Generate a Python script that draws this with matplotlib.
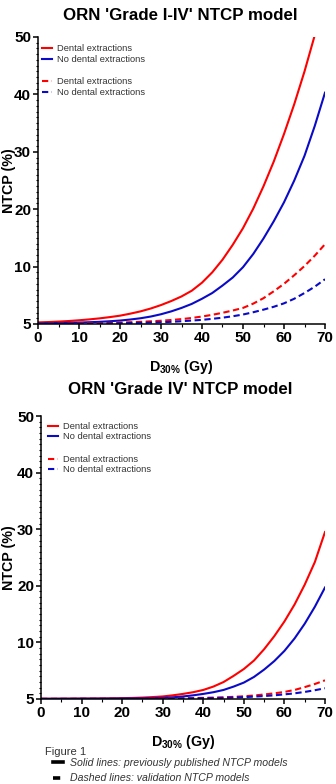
import matplotlib
matplotlib.use("Agg")
import matplotlib.pyplot as plt
from matplotlib.lines import Line2D
from matplotlib.ticker import MultipleLocator

plt.rcParams['font.family'] = ['Liberation Sans', 'DejaVu Sans']
plt.rcParams['mathtext.fontset'] = 'custom'
plt.rcParams['mathtext.rm'] = 'Liberation Sans:bold'
plt.rcParams['mathtext.bf'] = 'Liberation Sans:bold'
plt.rcParams['mathtext.it'] = 'Liberation Sans:bold'

# ---------------- data ----------------
dose = [0, 2.5, 5, 7.5, 10, 12.5, 15, 17.5, 20, 22.5, 25, 27.5, 30, 32.5, 35, 37.5,
        40, 42.5, 45, 47.5, 50, 52.5, 55, 57.5, 60, 62.5, 65, 67.5, 70]

# Top panel: ORN 'Grade I-IV'
top_red_solid = [0.28, 0.34, 0.42, 0.52, 0.65, 0.8, 0.98, 1.2, 1.45, 1.8, 2.2, 2.7, 3.3, 4.0, 4.8, 5.8,
                 7.2, 9.0, 11.2, 13.8, 16.7, 20.1, 24.0, 28.3, 33.1, 38.3, 44.0, 50.3, 56.5]
top_blue_solid = [0.12, 0.14, 0.17, 0.21, 0.25, 0.31, 0.38, 0.48, 0.6, 0.78, 1.0, 1.3, 1.7, 2.2, 2.8, 3.5,
                  4.4, 5.4, 6.7, 8.1, 9.9, 12.2, 14.9, 17.9, 21.2, 25.0, 29.3, 34.5, 40.3]
top_red_dashed = [0.05, 0.06, 0.07, 0.08, 0.1, 0.13, 0.16, 0.2, 0.25, 0.31, 0.38, 0.47, 0.57, 0.7, 0.85, 1.05,
                  1.3, 1.6, 1.95, 2.35, 2.8, 3.55, 4.5, 5.7, 7.0, 8.5, 10.1, 11.9, 13.9]
top_blue_dashed = [0.02, 0.02, 0.03, 0.04, 0.05, 0.06, 0.08, 0.1, 0.12, 0.16, 0.2, 0.25, 0.3, 0.38, 0.48, 0.6,
                   0.72, 0.9, 1.1, 1.35, 1.65, 2.05, 2.5, 3.0, 3.6, 4.4, 5.4, 6.5, 7.8]

# Bottom panel: ORN 'Grade IV'
bot_red_solid = [0.05, 0.05, 0.06, 0.07, 0.08, 0.09, 0.1, 0.12, 0.15, 0.19, 0.25, 0.34, 0.45, 0.65, 0.9, 1.2,
                 1.6, 2.2, 3.0, 4.1, 5.3, 6.8, 8.8, 11.1, 13.7, 16.7, 20.2, 24.2, 29.5]
bot_blue_solid = [0.03, 0.03, 0.04, 0.04, 0.05, 0.05, 0.06, 0.07, 0.08, 0.1, 0.12, 0.15, 0.2, 0.3, 0.45, 0.65,
                  0.9, 1.2, 1.6, 2.2, 2.9, 3.9, 5.2, 6.7, 8.5, 10.7, 13.3, 16.3, 19.7]
bot_red_dashed = [0.02, 0.02, 0.02, 0.02, 0.03, 0.03, 0.03, 0.04, 0.04, 0.05, 0.06, 0.07, 0.08, 0.1, 0.12, 0.16,
                  0.2, 0.25, 0.3, 0.38, 0.48, 0.62, 0.8, 1.0, 1.25, 1.6, 2.1, 2.65, 3.3]
bot_blue_dashed = [0.01, 0.01, 0.01, 0.01, 0.02, 0.02, 0.02, 0.02, 0.03, 0.03, 0.04, 0.05, 0.06, 0.07, 0.09, 0.11,
                   0.14, 0.17, 0.2, 0.26, 0.33, 0.42, 0.52, 0.65, 0.82, 1.0, 1.25, 1.55, 1.9]

titles = ["ORN 'Grade I-IV' NTCP model", "ORN 'Grade IV' NTCP model"]
series_labels = ["Dental extractions", "No dental extractions"]
y_ticks = [0, 10, 20, 30, 40, 50]
y_ticklabels = ["5", "10", "20", "30", "40", "50"]
x_ticks = [0, 10, 20, 30, 40, 50, 60, 70]
footer_labels = ["Solid lines: previously published NTCP models",
                 "Dashed lines: validation NTCP models"]

RED = "#ff0000"
BLUE = "#0a0ac8"
TXT = "#333333"

fig = plt.figure(figsize=(3.36, 7.84), dpi=100)
W, H = 336.0, 784.0

def px_axes(left, right, top, bottom):
    return fig.add_axes([left / W, 1 - bottom / H, (right - left) / W, (bottom - top) / H])

ax1 = px_axes(38, 325, 37, 324)
ax2 = px_axes(41, 325, 416, 699)

DASH = (0, (3.0, 1.7))

panels = [
    (ax1, top_red_solid, top_blue_solid, top_red_dashed, top_blue_dashed, 37, 324, 38, 42, (44, 77), 0.22),
    (ax2, bot_red_solid, bot_blue_solid, bot_red_dashed, bot_blue_dashed, 416, 699, 41, 48, (422, 455), 0.14),
]

for ax, rs, bs, rd, bd, top, bot, left, hx, legy, lsp in panels:
    l1, = ax.plot(dose, rs, color=RED, lw=1.5, solid_joinstyle='round')
    l2, = ax.plot(dose, bs, color=BLUE, lw=1.5, solid_joinstyle='round')
    l3, = ax.plot(dose, rd, color=RED, lw=1.5, ls=DASH)
    l4, = ax.plot(dose, bd, color=BLUE, lw=1.5, ls=DASH)
    ax.set_xlim(0, 70)
    ax.set_ylim(0, 50)
    for s in ['top', 'right']:
        ax.spines[s].set_visible(False)
    for s in ['left', 'bottom']:
        ax.spines[s].set_linewidth(1.1)
    ax.set_yticks(y_ticks)
    ax.set_yticklabels(y_ticklabels)
    ax.set_xticks(x_ticks)
    ax.yaxis.set_minor_locator(MultipleLocator(1))
    ax.xaxis.set_minor_locator(MultipleLocator(5))
    ax.tick_params(axis='both', which='major', length=3.5, width=1.1, pad=1.5,
                   labelsize=11, direction='out')
    ax.tick_params(axis='both', which='minor', length=1.8, width=0.8, direction='out')
    for lab in ax.get_xticklabels() + ax.get_yticklabels():
        lab.set_fontweight('bold')
    ax.set_ylabel("NTCP (%)", fontsize=10.3, fontweight='bold')
    ax.yaxis.set_label_coords((16 - left) / (325 - left), 0.5)
    ax.set_xlabel(r"D$_{\mathbf{30\%}}$ (Gy)", fontsize=10.3, fontweight='bold')
    ax.xaxis.set_label_coords(0.5, -34.0 / (bot - top))

    hxa = (hx - left) / (325 - left)
    leg1 = ax.legend([l1, l2], series_labels, loc='upper left',
                     bbox_to_anchor=(hxa, (bot - legy[0]) / (bot - top)),
                     frameon=False, fontsize=6.75, handlelength=1.1, handletextpad=0.55,
                     labelspacing=lsp, borderpad=0, borderaxespad=0, labelcolor=TXT)
    ax.add_artist(leg1)
    leg2 = ax.legend([l3, l4], series_labels, loc='upper left',
                     bbox_to_anchor=(hxa, (bot - legy[1]) / (bot - top)),
                     frameon=False, fontsize=6.75, handlelength=1.1, handletextpad=0.55,
                     labelspacing=lsp, borderpad=0, borderaxespad=0, labelcolor=TXT)

fig.text(180 / W, 1 - 15 / H, titles[0], ha='center', va='center', fontsize=12.2, fontweight='bold')
fig.text(180 / W, 1 - 390 / H, titles[1], ha='center', va='center', fontsize=12.2, fontweight='bold')

fig.text(45 / W, 1 - 752 / H, "Figure 1", ha='left', va='center', fontsize=8, color=TXT)
h_solid = Line2D([], [], color='black', lw=2.6)
h_dash = Line2D([], [], color='black', lw=2.6, ls=(0, (2.0, 1.3)))
fig.legend([h_solid, h_dash], footer_labels, loc='upper left',
           bbox_to_anchor=(53 / W, 1 - 758 / H), frameon=False,
           prop={'style': 'italic', 'size': 7.6}, labelcolor=TXT,
           handlelength=0.9, handletextpad=0.75, labelspacing=0.5,
           borderpad=0, borderaxespad=0)

fig.savefig("out.png", dpi=100)
